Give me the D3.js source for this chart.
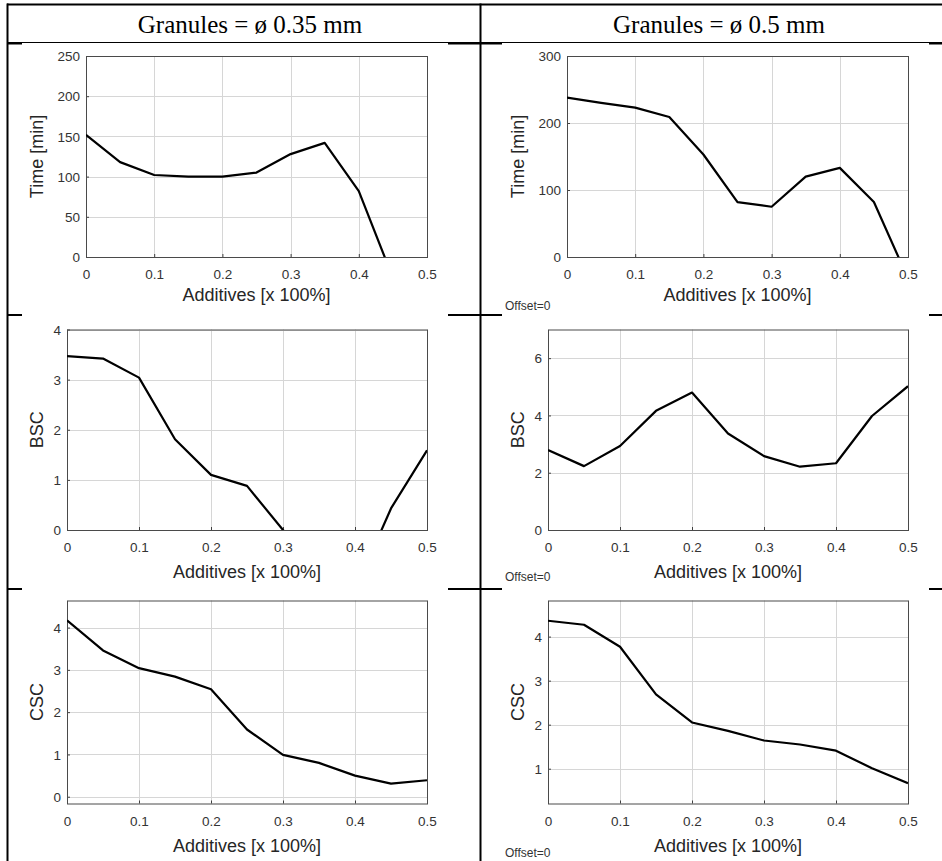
<!DOCTYPE html>
<html>
<head>
<meta charset="utf-8">
<script src="https://cdn.jsdelivr.net/npm/d3@7"></script>
<style>
  html, body { margin: 0; padding: 0; background: #fff; }
  svg { display: block; }
</style>
</head>
<body>
<svg id="chart" width="942" height="861"></svg>
<script>
// ---------------- DATA ----------------
const additives = [0, 0.05, 0.1, 0.15, 0.2, 0.25, 0.3, 0.35, 0.4, 0.45, 0.5];
const headers = ["Granules = \u00f8 0.35 mm", "Granules = \u00f8 0.5 mm"];
const xTicks = [0, 0.1, 0.2, 0.3, 0.4, 0.5];
const xTitle = "Additives [x 100%]";

const time035 = [152, 118, 102, 100, 100, 105, 128, 142, 82, -26, -50];
const time05  = [238, 230, 223, 209, 153, 82, 75, 120, 133, 82, -32];
const bsc035  = [3.47, 3.42, 3.04, 1.81, 1.10, 0.88, 0.0, -0.8, -1.2, 0.43, 1.59];
const bsc05   = [2.79, 2.23, 2.93, 4.16, 4.80, 3.37, 2.58, 2.21, 2.33, 3.98, 5.02];
const csc035  = [4.17, 3.46, 3.04, 2.84, 2.54, 1.59, 0.99, 0.80, 0.50, 0.31, 0.39];
const csc05   = [4.36, 4.27, 3.77, 2.69, 2.05, 1.86, 1.64, 1.55, 1.41, 1.01, 0.67];

const yTicksTime035 = [0, 50, 100, 150, 200, 250];
const yTicksTime05  = [0, 100, 200, 300];
const yTicksBsc035  = [0, 1, 2, 3, 4];
const yTicksBsc05   = [0, 2, 4, 6];
const yTicksCsc035  = [0, 1, 2, 3, 4];
const yTicksCsc05   = [1, 2, 3, 4];

const yDomTime035 = [0, 250];
const yDomTime05  = [0, 300];
const yDomBsc035  = [0, 4];
const yDomBsc05   = [0, 7];
const yDomCsc035  = [-0.16, 4.64];
const yDomCsc05   = [0.21, 4.82];

const offsetLabel = "Offset=0";

// ---------------- LAYOUT ----------------
const panels = [
  {values: time035, yTicks: yTicksTime035, yDom: yDomTime035, yTitle: "Time [min]",
   l: 86, r: 427, t: 56, b: 257, yTitleX: 37, xTitleOff: 44, offset: false},
  {values: time05, yTicks: yTicksTime05, yDom: yDomTime05, yTitle: "Time [min]",
   l: 567, r: 908, t: 56, b: 257, yTitleX: 518, xTitleOff: 44, offset: true, offY: 310},
  {values: bsc035, yTicks: yTicksBsc035, yDom: yDomBsc035, yTitle: "BSC",
   l: 67, r: 427, t: 329.5, b: 530, yTitleX: 37, xTitleOff: 48, offset: false},
  {values: bsc05, yTicks: yTicksBsc05, yDom: yDomBsc05, yTitle: "BSC",
   l: 548, r: 908, t: 329.5, b: 530, yTitleX: 518, xTitleOff: 48, offset: true, offY: 581},
  {values: csc035, yTicks: yTicksCsc035, yDom: yDomCsc035, yTitle: "CSC",
   l: 67, r: 427, t: 600.5, b: 803.5, yTitleX: 37, xTitleOff: 48, offset: false},
  {values: csc05, yTicks: yTicksCsc05, yDom: yDomCsc05, yTitle: "CSC",
   l: 548, r: 908, t: 600.5, b: 803.5, yTitleX: 518, xTitleOff: 48, offset: true, offY: 857}
];

const svg = d3.select("#chart");
const sans = "'Liberation Sans', Arial, Helvetica, sans-serif";

// ---------------- TABLE ----------------
const tbl = svg.append("g").attr("stroke", "#000").attr("fill", "none");
tbl.append("line").attr("x1", 7).attr("x2", 942).attr("y1", 4.5).attr("y2", 4.5).attr("stroke-width", 2);
tbl.append("line").attr("x1", 7.5).attr("x2", 7.5).attr("y1", 3.5).attr("y2", 861).attr("stroke-width", 2);
tbl.append("line").attr("x1", 480.5).attr("x2", 480.5).attr("y1", 3.5).attr("y2", 861).attr("stroke-width", 2);
tbl.append("line").attr("x1", 7).attr("x2", 942).attr("y1", 42.5).attr("y2", 42.5).attr("stroke-width", 1);
const segs = [[7, 22], [448, 502], [929, 942]];
[43.5, 315, 589].forEach(y => {
  segs.forEach(s => {
    tbl.append("line").attr("x1", s[0]).attr("x2", s[1]).attr("y1", y).attr("y2", y).attr("stroke-width", 2);
  });
});

svg.selectAll("text.hdr").data(headers).enter().append("text")
  .attr("class", "hdr")
  .attr("x", (d, i) => i === 0 ? 250 : 719)
  .attr("y", 33)
  .attr("text-anchor", "middle")
  .style("font-family", "'Liberation Serif', 'Times New Roman', serif")
  .style("font-size", "25px")
  .attr("fill", "#000")
  .text(d => d);

// ---------------- PANELS ----------------
const defs = svg.append("defs");
panels.forEach((p, i) => {
  const x = d3.scaleLinear().domain([0, 0.5]).range([p.l, p.r]);
  const y = d3.scaleLinear().domain(p.yDom).range([p.b, p.t]);
  const g = svg.append("g");

  // grid
  g.selectAll("line.gx").data(xTicks).enter().append("line")
    .attr("x1", d => Math.round(x(d)) + 0.5).attr("x2", d => Math.round(x(d)) + 0.5)
    .attr("y1", p.t).attr("y2", p.b)
    .attr("stroke", "#d6d6d6").attr("stroke-width", 1);
  g.selectAll("line.gy").data(p.yTicks).enter().append("line")
    .attr("x1", p.l).attr("x2", p.r)
    .attr("y1", d => Math.round(y(d)) + 0.5).attr("y2", d => Math.round(y(d)) + 0.5)
    .attr("stroke", "#d6d6d6").attr("stroke-width", 1);

  // axes via d3 (inward ticks)
  const xAxis = d3.axisBottom(x).tickValues(xTicks).tickSize(-3).tickPadding(0).tickFormat(d3.format("~g"));
  const yAxis = d3.axisLeft(y).tickValues(p.yTicks).tickSize(-3).tickPadding(0).tickFormat(d3.format("~g"));

  const gx = g.append("g").attr("transform", `translate(0,${p.b})`).call(xAxis)
    .attr("font-size", null).attr("font-family", null);
  gx.select(".domain").remove();
  gx.selectAll(".tick line").attr("stroke", "#404040");
  gx.selectAll(".tick text")
    .attr("y", 22).attr("dy", 0)
    .style("font-family", sans).style("font-size", "13.5px").attr("fill", "#333");

  const gy = g.append("g").attr("transform", `translate(${p.l},0)`).call(yAxis)
    .attr("font-size", null).attr("font-family", null);
  gy.select(".domain").remove();
  gy.selectAll(".tick line").attr("stroke", "#404040");
  gy.selectAll(".tick text")
    .attr("x", -6).attr("dy", "0.35em")
    .style("font-family", sans).style("font-size", "13.5px").attr("fill", "#333");

  // box
  g.append("rect")
    .attr("x", p.l + 0.5).attr("y", p.t + 0.5)
    .attr("width", p.r - p.l).attr("height", p.b - p.t)
    .attr("fill", "none").attr("stroke", "#4a4a4a").attr("stroke-width", 1);

  // data line
  const cid = "clip" + i;
  defs.append("clipPath").attr("id", cid).append("rect")
    .attr("x", p.l).attr("y", p.t).attr("width", p.r - p.l).attr("height", p.b - p.t);
  const line = d3.line().x((d, j) => x(additives[j])).y(d => y(d));
  g.append("path")
    .datum(p.values)
    .attr("clip-path", `url(#${cid})`)
    .attr("d", line)
    .attr("fill", "none").attr("stroke", "#000").attr("stroke-width", 2.2)
    .attr("stroke-linejoin", "round");

  // titles
  g.append("text")
    .attr("x", (p.l + p.r) / 2).attr("y", p.b + p.xTitleOff)
    .attr("text-anchor", "middle")
    .style("font-family", sans).style("font-size", "18px").attr("fill", "#262626")
    .text(xTitle);
  g.append("text")
    .attr("transform", `translate(${p.yTitleX},${(p.t + p.b) / 2}) rotate(-90)`)
    .attr("dy", "0.35em")
    .attr("text-anchor", "middle")
    .style("font-family", sans).style("font-size", "18px").attr("fill", "#262626")
    .text(p.yTitle);

  if (p.offset) {
    g.append("text")
      .attr("x", 505).attr("y", p.offY)
      .style("font-family", sans).style("font-size", "12px").attr("fill", "#333")
      .text(offsetLabel);
  }
});
</script>
</body>
</html>
